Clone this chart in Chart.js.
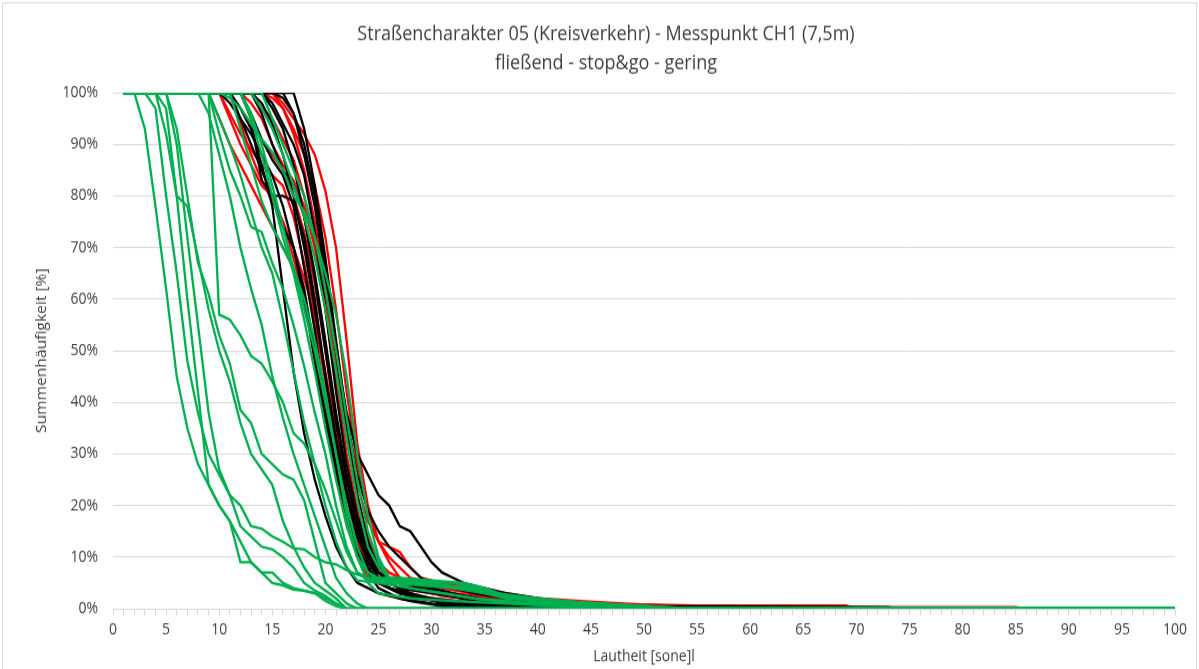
<!DOCTYPE html>
<html>
  <head>
    <script src="https://cdn.jsdelivr.net/npm/chart.js"></script>
    <style>
      body { margin: 0; padding: 0; background: #ffffff; }
      .card { width: 1199px; height: 669px; }
      canvas { width: 1199px !important; height: 669px !important; }
    </style>
  </head>
  <body>
    <div class="card">
      <canvas id="myChart"></canvas>
    </div>

    <script>
      // [Lautheit in sone, Summenhäufigkeit in %]
      const r1 = [[1,100],[15,100],[16,98],[17,95],[18,92],[19,88],[20,81],[21,70],[22,52],[23,32],[24,20],[25,13],[26,9],[27,6],[29,4],[32,3],[36,2],[40,1.5],[45,1],[55,0.6],[69,0.6],[70,0],[100,0]];
      const r2 = [[1,100],[15,100],[16,97],[17,93],[18,88],[19,82],[20,72],[21,58],[22,42],[23,28],[24,19],[25,13],[26,10],[27,8],[28,6],[30,5],[33,4],[36,3],[40,2],[44,1.5],[48,1],[52,0.6],[60,0],[100,0]];
      const r3 = [[1,100],[10,100],[11,96],[12,92],[13,89],[14,86],[15,84],[16,82],[17,76],[18,67],[19,56],[20,44],[21,32],[22,22],[23,14],[24,9],[25,6],[27,4],[30,3],[34,2],[38,1],[45,0.5],[50,0],[100,0]];
      const r4 = [[1,100],[10,100],[11,95],[12,90],[13,86],[14,82],[15,80],[16,75],[17,68],[18,60],[19,50],[20,38],[21,27],[22,17],[23,10],[24,6],[26,4],[28,2.5],[32,1.5],[36,1],[40,0.5],[44,0],[100,0]];
      const r5 = [[1,100],[11,100],[12,97],[13,94],[14,91],[15,88],[16,85],[17,80],[18,73],[19,63],[20,50],[21,36],[22,24],[23,15],[24,10],[25,7],[27,5],[30,3.5],[33,2.5],[37,1.5],[42,1],[48,0.5],[52,0],[100,0]];
      const r6 = [[1,100],[12,100],[13,98],[14,95],[15,90],[16,86],[17,83],[18,78],[19,70],[20,58],[21,44],[22,30],[23,19],[24,12],[25,8],[26,6],[28,5],[31,4],[34,3],[37,2],[41,1],[46,0.5],[50,0],[100,0]];
      const r7 = [[1,100],[11,100],[12,94],[13,88],[14,83],[15,79],[16,75],[17,70],[18,64],[19,57],[20,46],[21,34],[22,22],[23,13],[24,8],[25,5],[27,3],[30,2],[35,1],[42,0.5],[60,0.5],[62,0],[100,0]];
      const r8 = [[1,100],[14,100],[15,99],[16,97],[17,92],[18,85],[19,75],[20,62],[21,47],[22,33],[23,22],[24,14],[25,9],[26,6],[28,4],[31,2.5],[35,1.5],[40,1],[50,0.5],[73,0.3],[85,0.3],[86,0],[100,0]];
      const r9 = [[1,100],[9,100],[10,95],[11,90],[12,86],[13,82],[14,78],[15,74],[16,70],[17,66],[18,60],[19,50],[20,40],[21,30],[22,22],[23,17],[24,12],[25,9],[26,7],[28,5],[31,4],[34,3],[38,2],[44,1],[48,0.5],[50,0],[100,0]];
      const r10 = [[1,100],[13,100],[14,97],[15,95],[16,91],[17,87],[18,80],[19,71],[20,60],[21,47],[22,34],[23,24],[24,17],[25,13],[26,12],[27,11],[28,8],[29,6],[31,5],[34,4],[37,3],[40,2],[44,1],[48,0.5],[52,0],[100,0]];

      const k1 = [[1,100],[17,100],[18,93],[19,82],[20,68],[21,52],[22,37],[23,26],[24,19],[25,15],[26,12],[27,10],[28,8],[29,6],[30,5],[32,4],[34,3],[37,2],[41,1],[46,0.5],[50,0],[100,0]];
      const k2 = [[1,100],[16,100],[17,96],[18,88],[19,78],[20,64],[21,50],[22,38],[23,30],[24,26],[25,22],[26,20],[27,16],[28,15],[29,12],[30,9],[31,7],[32,6],[33,5],[35,4],[37,3],[40,2],[44,1],[48,0.5],[73,0.3],[74,0],[100,0]];
      const k3 = [[1,100],[11,100],[12,95],[13,90],[14,85],[15,80],[16,80],[17,79],[18,72],[19,60],[20,45],[21,32],[22,22],[23,14],[24,9],[25,6],[27,4],[30,3],[33,2],[37,1],[42,0.5],[46,0],[100,0]];
      const k4 = [[1,100],[12,100],[13,95],[14,83],[15,80],[16,74],[17,70],[18,62],[19,50],[20,38],[21,27],[22,18],[23,12],[24,8],[25,5],[27,3],[29,2],[32,1],[35,0.5],[38,0],[100,0]];
      const k5 = [[1,100],[11,100],[12,97],[13,93],[14,86],[15,78],[16,62],[17,46],[18,34],[19,25],[20,18],[21,12],[22,8],[23,5],[25,3],[28,1.5],[31,0.5],[33,0],[100,0]];
      const k6 = [[1,100],[13,100],[14,98],[15,94],[16,88],[17,80],[18,70],[19,58],[20,45],[21,33],[22,23],[23,15],[24,10],[25,7],[27,5],[30,3.5],[33,2.5],[36,1.5],[40,1],[45,0.5],[48,0],[100,0]];
      const k7 = [[1,100],[14,100],[15,97],[16,93],[17,86],[18,76],[19,64],[20,50],[21,36],[22,25],[23,17],[24,11],[25,7],[26,5],[28,3],[31,1],[34,0],[100,0]];
      const k8 = [[1,100],[12,100],[13,96],[14,91],[15,87],[16,84],[17,78],[18,66],[19,54],[20,40],[21,28],[22,18],[23,11],[24,7],[25,4],[27,2],[30,1],[33,0],[100,0]];
      const k9 = [[1,100],[15,100],[16,99],[17,96],[18,90],[19,80],[20,66],[21,50],[22,35],[23,22],[24,13],[25,8],[26,6],[28,5],[30,4],[32,3],[34,2],[37,1],[42,0.5],[45,0],[100,0]];
      const k10 = [[1,100],[10,100],[11,98],[12,95],[13,92],[14,88],[15,84],[16,78],[17,70],[18,60],[19,48],[20,36],[21,26],[22,18],[23,12],[24,8],[25,5],[27,3],[29,2],[32,1],[36,0],[100,0]];
      const k11 = [[1,100],[13,100],[14,96],[15,90],[16,85],[17,82],[18,76],[19,65],[20,52],[21,38],[22,26],[23,16],[24,10],[25,6],[26,4],[28,3],[30,2],[34,1],[38,0.5],[41,0],[100,0]];
      const k12 = [[1,100],[14,100],[15,98],[16,94],[17,90],[18,84],[19,73],[20,58],[21,42],[22,28],[23,18],[24,12],[25,8],[26,6],[28,4],[31,3],[33,2],[35,1],[37,0],[100,0]];

      const g1 = [[1,100],[2,100],[3,93],[4,78],[5,62],[6,45],[7,35],[8,28],[9,24],[10,20],[11,17],[12,13],[13,9],[14,7],[15,5],[16,4.5],[17,3.7],[18,3.5],[19,3],[20,1.5],[21,0.5],[22,0],[100,0]];
      const g2 = [[1,100],[3,100],[4,97],[5,80],[6,65],[7,48],[8,38],[9,30],[10,26],[11,22],[12,16],[13,14],[14,12],[15,11.5],[16,10],[17,8],[18,5],[19,3.5],[20,2.5],[21,1],[22,0],[100,0]];
      const g3 = [[1,100],[4,100],[5,97],[6,80],[7,78],[8,68],[9,58],[10,50],[11,44],[12,36],[13,30],[14,27],[15,24],[16,17],[17,12],[18,8],[19,5],[20,3.5],[21,2],[22,0],[100,0]];
      const g4 = [[1,100],[4,100],[5,92],[6,80],[7,60],[8,42],[9,24],[10,20],[11,17],[12,9],[13,9],[14,7],[15,7],[16,5],[17,4],[18,3.5],[19,3],[20,2],[21,1],[22,0],[100,0]];
      const g5 = [[1,100],[5,100],[6,90],[7,72],[8,55],[9,38],[10,27],[11,22],[12,20],[13,16],[14,15.5],[15,14],[16,13],[17,11.7],[18,11.5],[19,10],[20,9],[21,8.6],[22,7.5],[23,6.6],[24,6],[26,5.5],[28,5],[30,4.5],[33,4],[36,3],[39,2],[42,1.5],[46,1],[50,0.5],[55,0],[100,0]];
      const g6 = [[1,100],[5,100],[6,93],[7,80],[8,67],[9,61],[10,53],[11,47.5],[12,38.5],[13,36],[14,30],[15,28],[16,26],[17,25],[18,21],[19,13],[20,5],[21,3],[22,1],[23,0],[100,0]];
      const g7 = [[1,100],[9,100],[10,57],[11,56],[12,53],[13,49],[14,47.5],[15,44],[16,40],[17,34],[18,32],[19,28],[20,23],[21,17],[22,11],[23,7],[24,5.5],[26,5],[29,4.5],[32,4],[35,3],[38,2],[41,1.5],[45,1],[50,0.5],[54,0],[100,0]];
      const g8 = [[1,100],[8,100],[9,96],[10,88],[11,80],[12,70],[13,62],[14,55],[15,45],[16,37],[17,30],[18,24],[19,18],[20,12],[21,6],[22,3],[23,1],[24,0],[100,0]];
      const g9 = [[1,100],[9,100],[10,92],[11,85],[12,80],[13,74],[14,73],[15,67],[16,62],[17,55],[18,47],[19,38],[20,30],[21,20],[22,12],[23,7],[24,6],[26,5.5],[30,5],[33,4],[36,3],[40,2],[45,1],[50,0.5],[53,0],[100,0]];
      const g10 = [[1,100],[9,100],[10,95],[11,90],[12,84],[13,77],[14,70],[15,65],[16,56],[17,46],[18,36],[19,28],[20,20],[21,13],[22,8],[23,5.5],[25,5],[28,4],[31,3],[34,2],[37,1.5],[40,1],[45,0.5],[48,0],[100,0]];
      const g11 = [[1,100],[10,100],[11,99],[12,97],[13,94],[14,91],[15,88.5],[16,85],[17,80],[18,77],[19,72],[20,65],[21,57],[22,45],[23,30],[24,18],[25,10],[26,6],[28,5],[31,4.5],[34,4],[36,3],[38,2],[42,1.5],[46,1],[50,0.5],[53,0],[100,0]];
      const g12 = [[1,100],[12,100],[13,96],[14,90],[15,82],[16,74],[17,66],[18,58],[19,50],[20,40],[21,30],[22,20],[23,12],[24,7],[25,5.5],[28,5],[31,4.5],[33,4],[35,3],[37,2],[40,1.5],[43,1],[48,0.5],[51,0],[100,0]];
      const g13 = [[1,100],[13,100],[14,97],[15,93],[16,88],[17,82],[18,76],[19,68],[20,58],[21,46],[22,33],[23,21],[24,12],[25,8],[26,6],[28,5.5],[32,5],[35,4],[37,2.5],[40,1.5],[44,1],[50,0.5],[52,0],[100,0]];
      const g14 = [[1,100],[14,100],[15,95],[16,90],[17,85],[18,80],[19,72],[20,62],[21,50],[22,37],[23,25],[24,15],[25,9],[26,6],[28,4],[31,3],[34,2],[38,1],[44,0.5],[48,0],[100,0]];
      const g15 = [[1,100],[12,100],[13,95],[14,88],[15,80],[16,72],[17,65],[18,56],[19,46],[20,35],[21,25],[22,16],[23,10],[24,7],[25,6],[27,6],[30,5.5],[33,5],[35,4],[36,3],[38,2],[41,1],[46,0.5],[50,0],[100,0]];
      const g16 = [[1,100],[11,100],[12,93],[13,86],[14,79],[15,74],[16,70],[17,66],[18,60],[19,52],[20,42],[21,30],[22,18],[23,10],[24,5],[25,3],[28,2],[32,1.5],[37,1],[42,0.5],[46,0],[100,0]];

      const redSeries = [r1, r2, r3, r4, r5, r6, r7, r8, r9, r10];
      const blackSeries = [k1, k2, k3, k4, k5, k6, k7, k8, k9, k10, k11, k12];
      const greenSeries = [g1, g2, g3, g4, g5, g6, g7, g8, g9, g10, g11, g12, g13, g14, g15, g16];

      const titleLines = ['Straßencharakter 05 (Kreisverkehr) - Messpunkt CH1 (7,5m)', 'fließend - stop&go - gering'];
      const xTitle = 'Lautheit [sone]l';
      const yTitle = 'Summenhäufigkeit [%]';

      const fam = "'Open Sans', sans-serif";

      function mk(list, color) {
        return list.map(s => ({
          data: s.map(p => ({ x: p[0], y: p[1] })),
          borderColor: color,
          borderWidth: 2.3,
          pointRadius: 0,
          tension: 0,
          fill: false
        }));
      }

      // erster Datensatz liegt oben: grün, dann schwarz, dann rot
      const datasets = [].concat(mk(greenSeries, '#00b050'), mk(blackSeries, '#000000'), mk(redSeries, '#ff0000'));

      // Rahmen und zweizeiliger Titel wie im Excel-Diagramm
      const frame = {
        id: 'frame',
        beforeDraw(chart) {
          const c = chart.ctx;
          c.save();
          c.fillStyle = '#ffffff';
          c.fillRect(0, 0, chart.width, chart.height);
          c.strokeStyle = '#d9d9d9';
          c.lineWidth = 1;
          c.strokeRect(2.5, 2.5, chart.width - 5, chart.height + 5);
          c.fillStyle = '#404040';
          c.font = "18px " + fam;
          c.textAlign = 'center';
          c.textBaseline = 'middle';
          c.fillText(titleLines[0], 606, 31);
          c.fillText(titleLines[1], 606, 57);
          c.restore();
        }
      };

      const ctx = document.getElementById('myChart').getContext('2d');
      new Chart(ctx, {
        type: 'line',
        data: { datasets: datasets },
        plugins: [frame],
        options: {
          responsive: false,
          maintainAspectRatio: false,
          animation: false,
          layout: { padding: { left: 0, right: 24, top: 83, bottom: 0 } },
          plugins: {
            legend: { display: false },
            tooltip: { enabled: false },
            title: { display: false }
          },
          scales: {
            x: {
              type: 'linear',
              min: 0,
              max: 100,
              afterFit(s) { s.height = 54; },
              ticks: {
                stepSize: 1,
                autoSkip: false,
                maxRotation: 0,
                padding: 5,
                color: '#404040',
                font: { family: fam, size: 14 },
                callback: v => (v % 5 === 0 ? v : '')
              },
              grid: { drawOnChartArea: false, tickLength: 6, color: '#d9d9d9' },
              border: { color: '#d9d9d9', width: 1 },
              title: {
                display: true,
                text: xTitle,
                color: '#404040',
                font: { family: fam, size: 14 },
                padding: { top: 0, bottom: 3 }
              }
            },
            y: {
              min: 0,
              max: 100,
              afterFit(s) { s.width = 113; },
              ticks: {
                stepSize: 10,
                padding: 15,
                color: '#404040',
                font: { family: fam, size: 14 },
                callback: v => v + '%'
              },
              grid: { color: '#d9d9d9', drawTicks: false, lineWidth: 1 },
              border: { display: false },
              title: {
                display: true,
                text: yTitle,
                color: '#404040',
                font: { family: fam, size: 14 },
                padding: { top: 34, bottom: 0 }
              }
            }
          }
        }
      });
    </script>
  </body>
</html>
